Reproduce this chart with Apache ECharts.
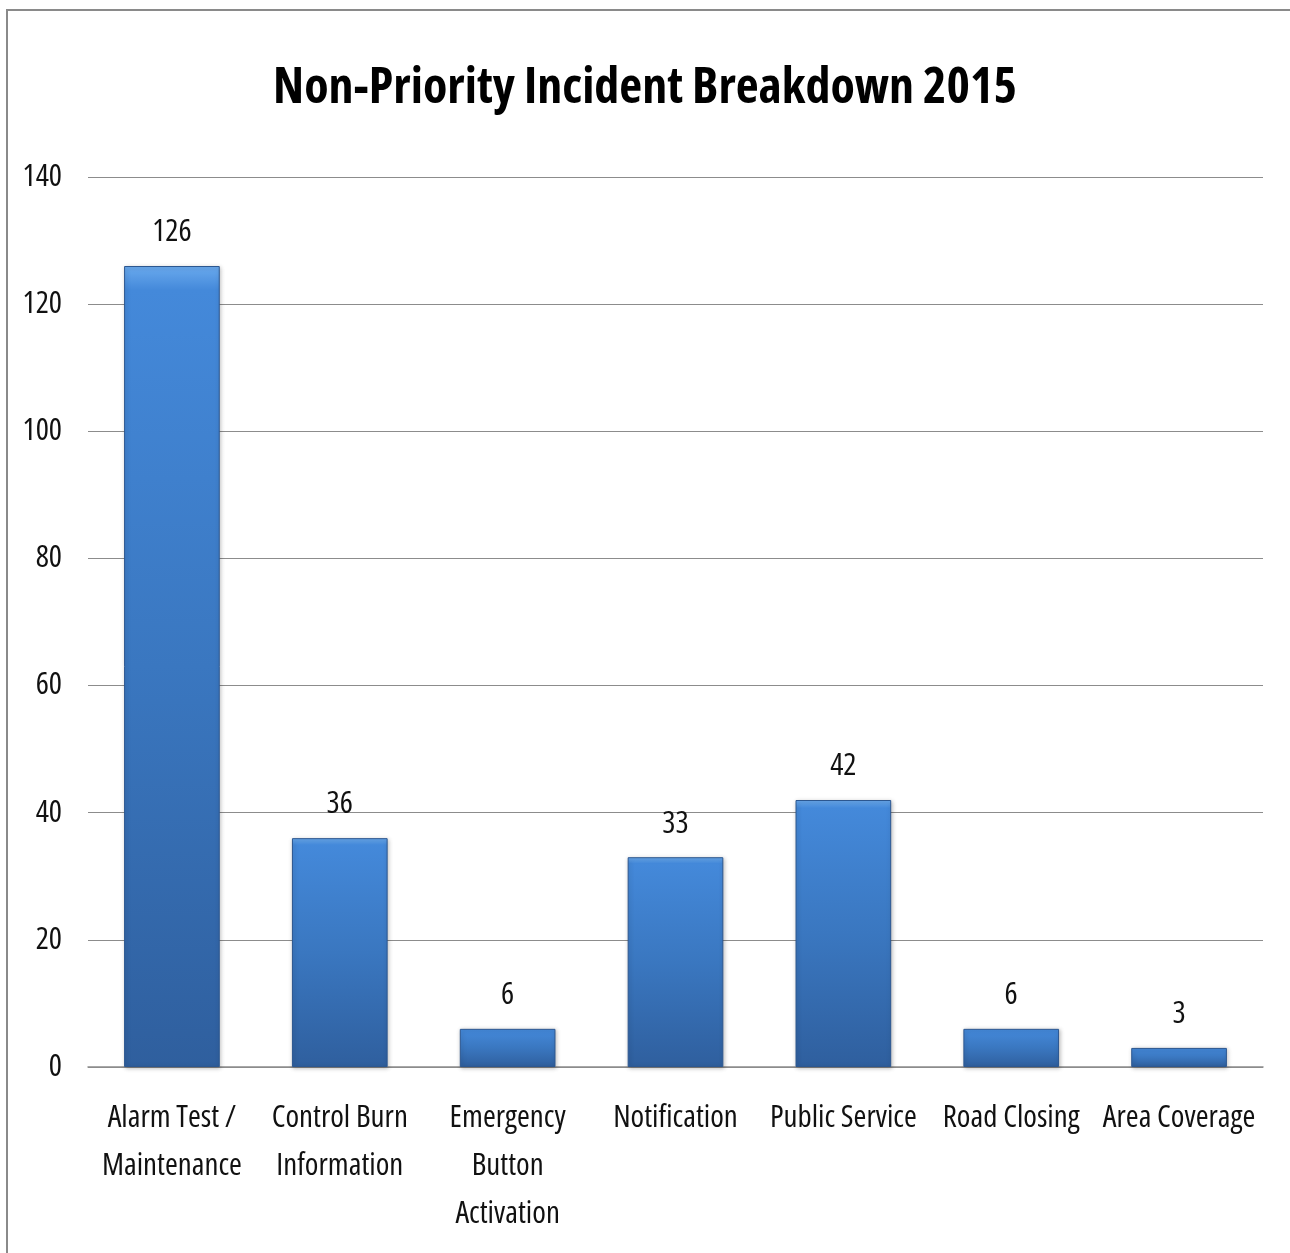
<!DOCTYPE html>
<html>
<head>
<meta charset="utf-8">
<style>
  html, body { margin: 0; padding: 0; background: #fff; }
  #chart { width: 1290px; height: 1253px; }
</style>
<script src="https://cdn.jsdelivr.net/npm/echarts@6/dist/echarts.min.js"></script>
</head>
<body>
<div id="chart"></div>
<script>
const titleText = 'Non-Priority Incident Breakdown 2015';
const categories = ['Alarm Test /\nMaintenance', 'Control Burn\nInformation', 'Emergency\nButton\nActivation', 'Notification', 'Public Service', 'Road Closing', 'Area Coverage'];
const values = [126, 36, 6, 33, 42, 6, 3];
const yMin = 0, yMax = 140, yInterval = 20;

const FONT = "'Open Sans', sans-serif";

const chart = echarts.init(document.getElementById('chart'));
chart.setOption({
  animation: false,
  backgroundColor: '#ffffff',
  graphic: [{
    type: 'rect',
    shape: { x: 7, y: 10, width: 1300, height: 1300 },
    style: { fill: 'none', stroke: '#8a8a8a', lineWidth: 2 },
    silent: true
  }],
  title: {
    text: titleText,
    left: 'center',
    top: 59,
    textStyle: { fontFamily: FONT, fontWeight: 'bold condensed', fontSize: 50, color: '#000' }
  },
  grid: { left: 88, right: 27, top: 177, bottom: 186, containLabel: false },
  xAxis: {
    type: 'category',
    data: categories,
    axisLine: { show: true, lineStyle: { color: '#8c8c8c', width: 1.5 } },
    axisTick: { show: false },
    axisLabel: {
      interval: 0,
      margin: 27,
      fontFamily: FONT,
      fontWeight: 'condensed',
      fontSize: 31,
      lineHeight: 48,
      color: '#111'
    }
  },
  yAxis: {
    type: 'value',
    min: yMin,
    max: yMax,
    interval: yInterval,
    axisLine: { show: false },
    axisTick: { show: false },
    splitLine: { lineStyle: { color: '#8c8c8c', width: 1.2 } },
    axisLabel: { margin: 26, fontFamily: FONT, fontWeight: 'condensed', fontSize: 31, color: '#111' }
  },
  series: [{
    type: 'bar',
    data: values,
    barWidth: '57%',
    itemStyle: {
      color: new echarts.graphic.LinearGradient(0, 0, 0, 1, [
        { offset: 0, color: '#6aaaee' },
        { offset: 0.03, color: '#4489da' },
        { offset: 0.5, color: '#3a77c0' },
        { offset: 1, color: '#2f5f9e' }
      ]),
      borderColor: '#2c5790',
      borderWidth: 1,
      shadowBlur: 4,
      shadowColor: 'rgba(0,0,0,0.25)',
      shadowOffsetX: 1,
      shadowOffsetY: 1
    },
    label: {
      show: true,
      position: 'top',
      distance: 18,
      fontFamily: FONT,
      fontWeight: 'condensed',
      fontSize: 31,
      color: '#111'
    }
  }]
});
</script>
</body>
</html>
